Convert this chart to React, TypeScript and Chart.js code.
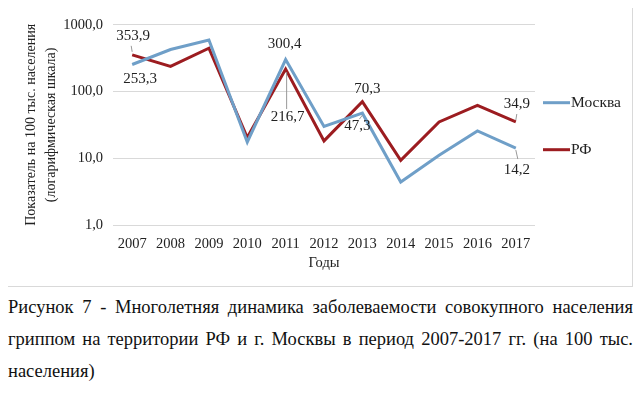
import React, { useEffect, useRef } from "react";
import { Chart, registerables } from "chart.js";

Chart.register(...registerables);

const years = ["2007", "2008", "2009", "2010", "2011", "2012", "2013", "2014", "2015", "2016", "2017"];
const moscow = [253.3, 425, 590, 17.5, 300.4, 30, 47.3, 4.4, 11.1, 25.6, 14.2];
const rf = [353.9, 238, 445, 20.4, 216.7, 18.2, 70.3, 9.3, 34.9, 62, 34.9];
const yTicks = [1, 10, 100, 1000];
const seriesNames = ["Москва", "РФ"];
const yTitle = ["Показатель на 100 тыс. населения", "(логарифмическая шкала)"];
const xTitle = "Годы";
const captionLines = [
  "Рисунок 7 - Многолетняя динамика заболеваемости совокупного населения",
  "гриппом на территории РФ и г. Москвы в период 2007-2017 гг. (на 100 тыс.",
  "населения)",
];

const COLORS = ["#6f9fc8", "#9c1c20"];
const FONT = "'Liberation Serif', 'Times New Roman', serif";
const TEXT = "#222";

const fmt = (v: number) => v.toFixed(1).replace(".", ",");

// data labels: dataset index, point index, offset of text, leader line
const labelCfg = [
  { ds: 1, i: 0, dx: 1, dy: -19, lead: [0, -3, -1, -9] },
  { ds: 0, i: 0, dx: 8, dy: 15, lead: null },
  { ds: 0, i: 4, dx: -1, dy: -16, lead: null },
  { ds: 1, i: 4, dx: 2, dy: 48, lead: [1, 3, 1, 40] },
  { ds: 1, i: 6, dx: 5, dy: -13, lead: null },
  { ds: 0, i: 6, dx: -5, dy: 13, lead: [0, 2, -3, 6] },
  { ds: 1, i: 10, dx: 1, dy: -18, lead: [0, -2, 1, -8] },
  { ds: 0, i: 10, dx: 1, dy: 22, lead: [0, 2, 2, 11] },
];

const labelPlugin = {
  id: "dataLabels",
  afterDatasetsDraw(chart: any) {
    const ctx = chart.ctx;
    ctx.save();
    ctx.font = `15px ${FONT}`;
    ctx.fillStyle = TEXT;
    ctx.textAlign = "center";
    ctx.textBaseline = "middle";
    for (const c of labelCfg) {
      const el = chart.getDatasetMeta(c.ds).data[c.i];
      const v = chart.data.datasets[c.ds].data[c.i];
      if (c.lead) {
        ctx.strokeStyle = "#999";
        ctx.lineWidth = 1;
        ctx.beginPath();
        ctx.moveTo(el.x + c.lead[0], el.y + c.lead[1]);
        ctx.lineTo(el.x + c.lead[2], el.y + c.lead[3]);
        ctx.stroke();
      }
      ctx.fillText(fmt(v), el.x + c.dx, el.y + c.dy);
    }
    ctx.restore();
  },
};

const legendPlugin = {
  id: "sideLegend",
  afterDraw(chart: any) {
    const ctx = chart.ctx;
    const a = chart.chartArea;
    const rows = [78, 125];
    ctx.save();
    ctx.font = `15.5px ${FONT}`;
    ctx.textBaseline = "middle";
    ctx.textAlign = "left";
    chart.data.datasets.forEach((ds: any, k: number) => {
      const y = a.top + rows[k];
      ctx.strokeStyle = ds.borderColor;
      ctx.lineWidth = 3;
      ctx.beginPath();
      ctx.moveTo(a.right + 8, y);
      ctx.lineTo(a.right + 35, y);
      ctx.stroke();
      ctx.fillStyle = TEXT;
      ctx.fillText(ds.label, a.right + 36, y);
    });
    ctx.restore();
  },
};

export default function App() {
  const ref = useRef<HTMLCanvasElement | null>(null);
  useEffect(() => {
    if (!ref.current) return;
    const chart = new Chart(ref.current, {
      type: "line",
      data: {
        labels: years,
        datasets: [
          { label: seriesNames[0], data: moscow, borderColor: COLORS[0], backgroundColor: COLORS[0], borderWidth: 3, pointRadius: 0, tension: 0 },
          { label: seriesNames[1], data: rf, borderColor: COLORS[1], backgroundColor: COLORS[1], borderWidth: 3, pointRadius: 0, tension: 0 },
        ],
      },
      options: {
        animation: false,
        responsive: true,
        maintainAspectRatio: false,
        layout: { padding: { left: 0, right: 97, top: 17, bottom: 10 } },
        plugins: { legend: { display: false }, tooltip: { enabled: false } },
        scales: {
          x: {
            offset: true,
            grid: { display: false, drawTicks: false },
            border: { display: false },
            ticks: { color: TEXT, font: { family: FONT, size: 14.5 }, padding: 10, maxRotation: 0 },
            title: { display: true, text: xTitle, color: TEXT, font: { family: FONT, size: 14.5 }, padding: { top: 0, bottom: 4 } },
            afterFit: (s: any) => { s.height = 51; },
          },
          y: {
            type: "logarithmic",
            min: 1,
            max: 1000,
            grid: { color: "#d9d9d9", drawTicks: false },
            border: { display: false },
            afterBuildTicks: (s: any) => { s.ticks = yTicks.map((v) => ({ value: v })); },
            ticks: { color: TEXT, font: { family: FONT, size: 14.5 }, padding: 10, callback: (v: any) => fmt(Number(v)) },
            title: { display: true, text: yTitle, color: TEXT, font: { family: FONT, size: 14, lineHeight: 1.43 }, padding: { top: 13, bottom: 0 } },
            afterFit: (s: any) => { s.width = 105; },
          },
        },
      },
      plugins: [labelPlugin, legendPlugin],
    });
    return () => chart.destroy();
  }, []);

  return (
    <div style={{ marginLeft: -1, marginTop: -3, width: 626 }}>
      <div style={{ width: 624, height: 280, border: "1px solid #d9d9d9", position: "relative" }}>
        <canvas ref={ref} />
      </div>
      <div style={{ marginTop: 4, width: 625, marginLeft: 1 }}>
        {captionLines.map((t, k) => (
          <div
            key={k}
            style={{
              fontFamily: FONT,
              fontSize: "18.5px",
              lineHeight: "32px",
              color: "#111",
              textAlign: "justify",
              textAlignLast: k < captionLines.length - 1 ? "justify" : "left",
              whiteSpace: "nowrap",
            }}
          >
            {t}
          </div>
        ))}
      </div>
    </div>
  );
}
